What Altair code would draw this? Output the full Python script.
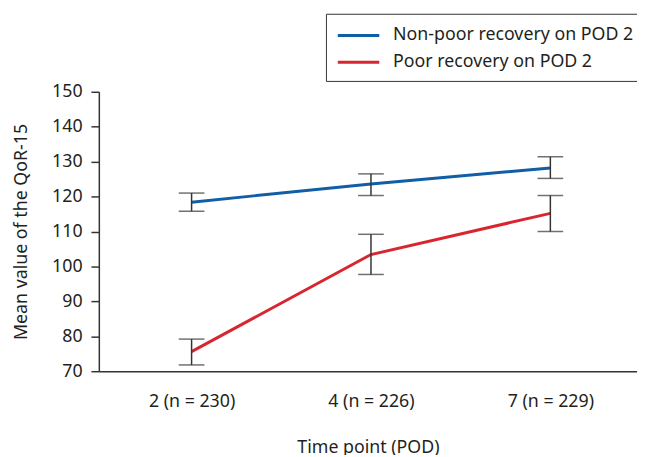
import altair as alt
import pandas as pd

timepoints = ["2 (n = 230)", "4 (n = 226)", "7 (n = 229)"]
series_names = ["Non-poor recovery on POD 2", "Poor recovery on POD 2"]
nonpoor_mean = [118.4, 123.6, 128.2]
nonpoor_lo = [115.8, 120.3, 125.2]
nonpoor_hi = [121.0, 126.5, 131.4]
poor_mean = [75.6, 103.4, 115.2]
poor_lo = [71.8, 97.7, 110.0]
poor_hi = [79.2, 109.2, 120.3]
y_ticks = [70, 80, 90, 100, 110, 120, 130, 140, 150]
colors = ["#0f5ea6", "#d7262f"]

rows = []
for i, t in enumerate(timepoints):
    rows.append(dict(time=t, group=series_names[0], mean=nonpoor_mean[i], lo=nonpoor_lo[i], hi=nonpoor_hi[i]))
for i, t in enumerate(timepoints):
    rows.append(dict(time=t, group=series_names[1], mean=poor_mean[i], lo=poor_lo[i], hi=poor_hi[i]))
df = pd.DataFrame(rows)

FONT = "Noto Sans"
TXT = "#231f20"
FS = 18

xaxis = alt.Axis(title="Time point (POD)", labelAngle=0, ticks=False,
                 labelPadding=22, titlePadding=28, domainColor="#333",
                 domainWidth=1.5)
xscale = alt.Scale(type="point", paddingOuter=0.6465, align=0.517)
yaxis = alt.Axis(title="Mean value of the QoR-15", values=y_ticks,
                 labelOverlap=False,
                 tickSize=8, tickWidth=1.5, tickColor="#333", domainColor="#333",
                 domainWidth=1.5, labelPadding=9, titlePadding=21, grid=False)
yscale = alt.Scale(domain=[70, 150], nice=False, zero=False)


def X():
    return alt.X("time:N", sort=timepoints, scale=xscale, axis=xaxis)


base = alt.Chart(df)

lines = base.mark_line(strokeWidth=3).encode(
    x=X(),
    y=alt.Y("mean:Q", scale=yscale, axis=yaxis),
    color=alt.Color("group:N", scale=alt.Scale(domain=series_names, range=colors),
                    legend=alt.Legend(title=None, orient="none", legendX=230, legendY=-79,
                                      symbolType="M-2,0H2", symbolSize=441,
                                      symbolStrokeWidth=3, symbolOffset=11, labelOffset=23,
                                      labelFontSize=FS, labelColor=TXT, labelFont=FONT,
                                      labelExpr="datum.label + '\u00a0\u00a0\u00a0\u00a0\u00a0\u00a0'",
                                      strokeColor="#333", fillColor="white",
                                      padding=10, rowPadding=6, labelLimit=400)),
    detail="group:N",
)

rules = base.mark_rule(color="#333", strokeWidth=1.5).encode(
    x=X(), y=alt.Y("lo:Q", scale=yscale, axis=yaxis), y2="hi:Q")
caps_lo = base.mark_tick(color="#333", thickness=1.5, size=26).encode(
    x=X(), y=alt.Y("lo:Q", scale=yscale, axis=yaxis))
caps_hi = base.mark_tick(color="#333", thickness=1.5, size=26).encode(
    x=X(), y=alt.Y("hi:Q", scale=yscale, axis=yaxis))

chart = alt.layer(lines, rules, caps_lo, caps_hi).properties(
    width=545, height=283,
    autosize=alt.AutoSizeParams(type="none"),
    padding={"left": 92, "top": 82, "right": 0, "bottom": 82},
).configure_view(stroke=None).configure_axis(
    labelFont=FONT, titleFont=FONT, labelFontSize=FS, titleFontSize=FS,
    labelColor=TXT, titleColor=TXT, titleFontWeight="normal",
)

chart.save("out.html", embed_options={"renderer": "svg", "actions": False})
